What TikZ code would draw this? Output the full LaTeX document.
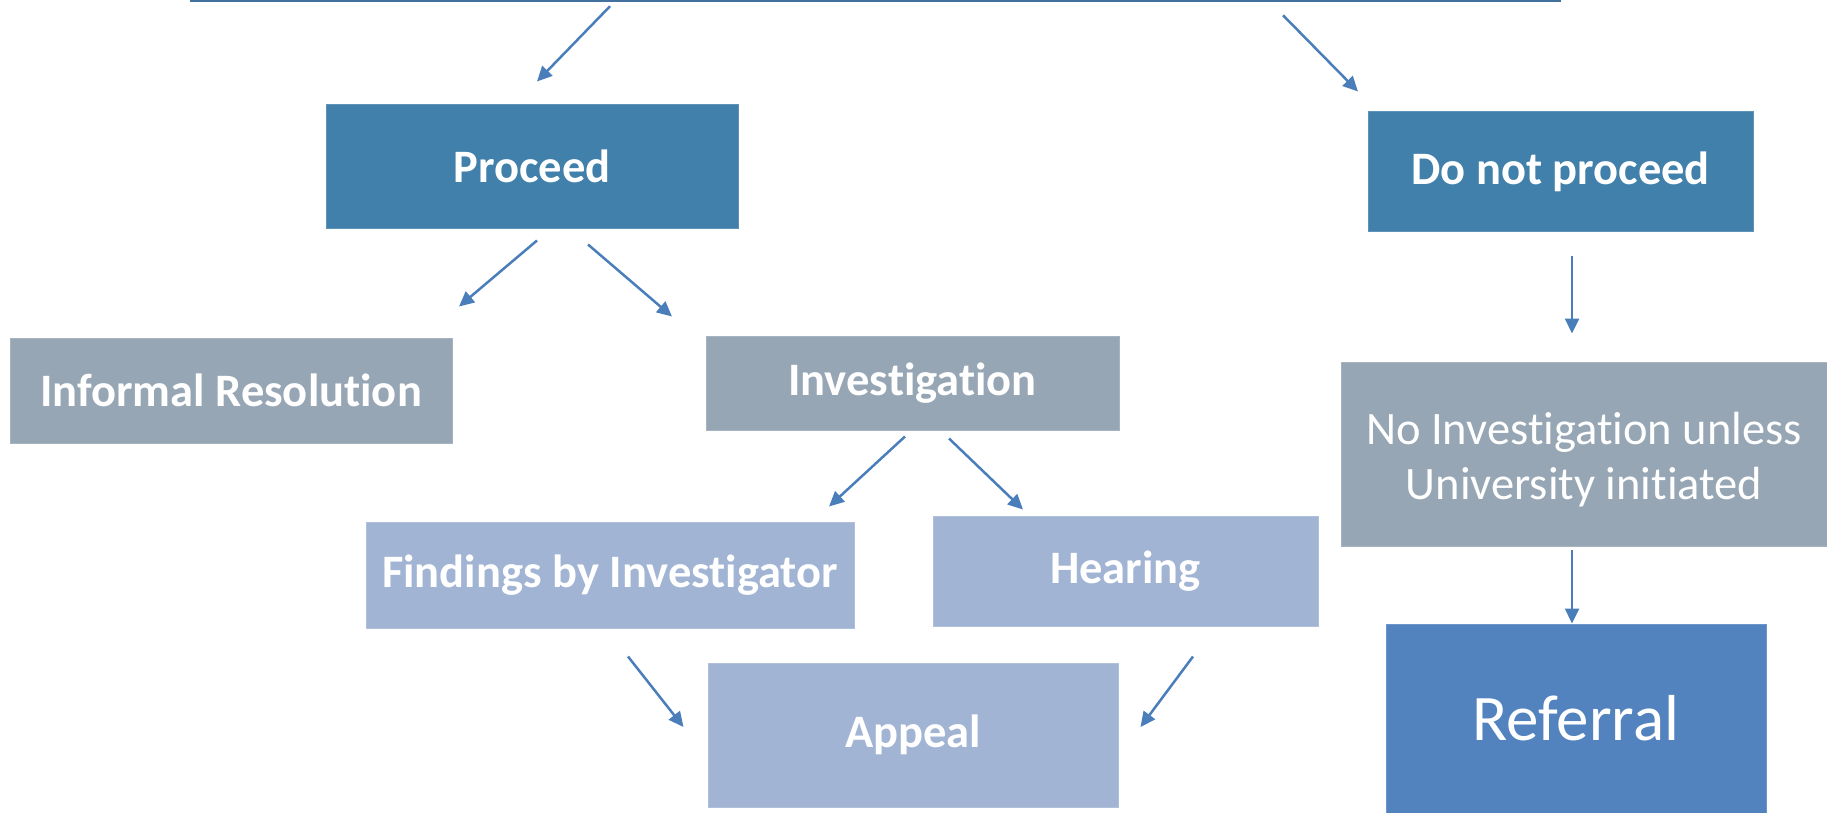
\documentclass[tikz,border=0pt]{standalone}
\usepackage{fontspec}
\setmainfont{Carlito}[Ligatures={NoCommon,NoContextual}]
\usepackage{tikz}
\usetikzlibrary{arrows.meta, positioning}
\definecolor{deepbox}{RGB}{65,128,170}
\definecolor{greybox}{RGB}{151,166,180}
\definecolor{palebox}{RGB}{162,180,212}
\definecolor{referbox}{RGB}{82,131,191}
\definecolor{arrowblue}{RGB}{74,126,187}
\definecolor{lineblue}{RGB}{65,113,156}
\newcommand{\BoxText}{\fontsize{46.5}{55}\selectfont}
\newcommand{\BigText}{\fontsize{65}{76}\selectfont}
\tikzset{
    box/.style={rectangle, fill=#1, draw=#1!85!white, line width=1pt,
        text=white, align=center, inner sep=0pt, font=\BoxText\bfseries},
    plain/.append style={font=\BoxText},
    flow/.style={-{Triangle[length=15pt, width=14pt]}, draw=arrowblue, line width=2.5pt},
}

\begin{document}
\begin{tikzpicture}[x=1pt, y=-1pt]
    \useasboundingbox (0,0) rectangle (1827,813);
    \clip (0,0) rectangle (1827,813);

    \node[draw=lineblue, line width=2.5pt, minimum width=1369pt, minimum height=200pt] (intake) at (875.5,-99) {};

    \node[box=deepbox, minimum width=412pt, minimum height=123pt] (proceed) at (532,166.5) {Proceed};
    \node[box=deepbox, minimum width=385pt, minimum height=119pt] (dnp) at (1560.5,171.5) {Do not proceed};
    \node[box=greybox, minimum width=442pt, minimum height=105pt] (informal) at (231,390.5) {Informal Resolution};
    \node[box=greybox, minimum width=413pt, minimum height=94pt] (invest) at (912.5,383) {Investigation};
    \node[box=greybox, plain, minimum width=486pt, minimum height=184pt] (noinv) at (1584,454) {\rule{0pt}{44pt}No Investigation unless\\University initiated};
    \node[box=palebox, minimum width=488pt, minimum height=106pt] (findings) at (610,575) {Findings by Investigator};
    \node[box=palebox, minimum width=385pt, minimum height=110pt] (hearing) at (1125.5,571) {Hearing};
    \node[box=palebox, minimum width=410pt, minimum height=144pt] (appeal) at (913,735) {Appeal};
    \node[box=referbox, font=\BigText, minimum width=380pt, minimum height=189pt] (referral) at (1576,718.5) {Referral};

    \draw ([shift={(-265.5,4)}]intake.south) edge[flow] ([shift={(5,-23)}]proceed.north);
    \draw ([shift={(407.5,13)}]intake.south) edge[flow] ([shift={(-202.5,-20)}]dnp.north);
    \draw ([shift={(5,12)}]proceed.south) edge[flow] ([shift={(228,-31)}]informal.north);
    \draw ([shift={(56,16)}]proceed.south) edge[flow] ([shift={(-240.5,-19)}]invest.north);
    \draw ([shift={(11.5,24)}]dnp.south) edge[flow] ([shift={(-12,-28)}]noinv.north);
    \draw ([shift={(-7.5,6)}]invest.south) edge[flow] ([shift={(219,-15)}]findings.north);
    \draw ([shift={(36.5,8)}]invest.south) edge[flow] ([shift={(-102.5,-6)}]hearing.north);
    \draw ([shift={(18,28)}]findings.south) edge[flow] ([shift={(-24,-8)}]appeal.west);
    \draw ([shift={(67.5,30)}]hearing.south) edge[flow] ([shift={(22,-8)}]appeal.east);
    \draw ([shift={(-12,3)}]noinv.south) edge[flow] ([shift={(-4,0)}]referral.north);
\end{tikzpicture}
\end{document}
